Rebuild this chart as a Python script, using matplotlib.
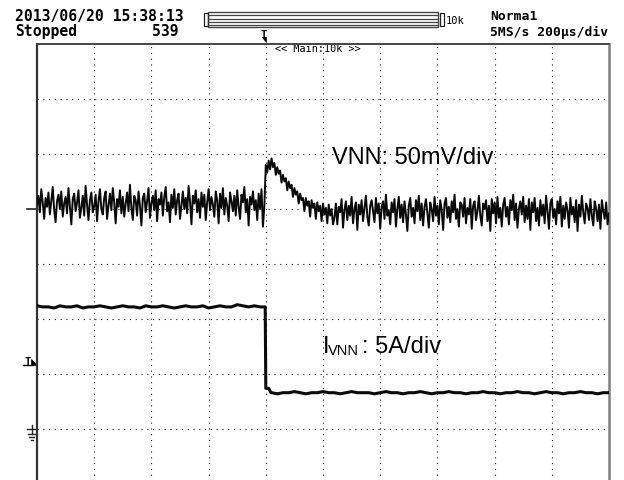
import numpy as np
import matplotlib
matplotlib.use('Agg')
import matplotlib.pyplot as plt
from matplotlib.patches import Rectangle, Polygon

# Scope settings: 200 us/div, 10 div across, 8 div high
n_xdiv, n_ydiv = 10, 8
vnn_scale_mv = 50.0      # mV/div
ivnn_scale_a = 5.0       # A/div
vnn_pos_div = 1.0        # CH1 offset marker
ivnn_pos_div = -3.0      # CH2 ground marker
trig_div = 4.0
vnn_step_div = 0.025     # sample spacing of the VNN readout

# VNN samples (mV)
vnn_pre_mv = [
    4, 12, -3, 18, 6, -9, 10, 2, 15, -5, 8, 20, -1, -12, 7, 13, 0, 16, -7, 5,
    11, -4, 19, 3, -14, 9, 14, -2, 6, 17, -8, 1, 12, -6, 21, 4, -10, 8, 15, -3,
    2, 13, -11, 7, 18, 0, -5, 10, 16, -9, 3, 14, -1, 19, 6, -13, 9, 2, 17, -4,
    11, -7, 5, 15, -2, 22, 1, -10, 12, 8, -6, 16, 3, -15, 10, 14, -3, 7, 19, -8,
    5, 12, -1, 17, -11, 9, 4, 15, -6, 11, 20, -2, 6, -12, 13, 1, 18, -5, 8, 14,
    -9, 3, 16, 0, 10, -4, 21, 7, -14, 12, 5, 17, -3, 9, -8, 15, 2, 13, -10, 6,
    18, -1, 11, 4, -7, 16, 8, -13, 14, 1, 19, -5, 10, 3, -11, 15, 7, -2, 12, -6,
    17, 2, -9, 13, 6, 20, -3, 9, -15, 11, 4, 16, -1, 8, -10, 14, 0, 18, -16, 3,
]
vnn_spike_mv = [
    40, 33, 44, 36, 46, 38, 42, 31, 38, 32, 35, 24, 31, 25, 28, 17, 25, 19, 22, 11,
    19, 13, 16, 5, 14, 8, 10, -2, 10, 3, 7, -7, 8, 1, 5, -9, 6, -2, 3, -11,
    5, -5, 1, -13, 4, -6, 0, -14,
]
vnn_post_mv = [
    -8, 5, -14, 2, -3, 9, -17, -1, 7, -10, 3, -6, 11, -13, 0, 6, -19, 4, -5, 8,
    -11, 1, 12, -7, -15, 3, 8, -2, -12, 10, -4, 5, -18, 2, 7, -9, 13, -6, -1, -14,
    6, -3, 9, -16, 0, 11, -8, 4, -12, 7, -5, -20, 3, 10, -7, 1, -13, 8, -2, 12,
    -10, 5, -15, 2, 9, -4, -17, 6, 0, -11, 11, -6, 3, -14, 8, -1, -19, 5, 10, -8,
    2, -12, 7, -3, 13, -9, 0, -16, 6, 4, -7, 10, -13, 1, -5, 9, -18, 3, 7, -10,
    -2, 12, -6, -15, 5, 0, 8, -11, 3, -20, 9, -4, 6, -13, 11, -8, 1, -16, 4, 10,
    -7, 2, -14, 8, -1, 13, -10, 5, -17, 0, 7, -5, 11, -12, 3, -9, 9, -19, 6, -3,
    10, -11, 1, -15, 8, -6, 4, -13, 12, -2, -18, 5, 9, -8, 0, -14, 7, -4, 11, -16,
    3, -9, 6, -1, -17, 10, -5, 2, -12, 8, -20, 4, -7, 12, -3, -13, 5, 1, -10, 9,
    -6, -15, 7, 0, -11, 4, -18, 8, -2, -9, 6, -14, -4,
]

# I_VNN samples (A) every 0.1 div, plus the falling edge
ivnn_high_a = [
    11.2, 11.1, 11.1, 11.0, 11.2, 11.1, 11.1, 11.2, 11.0, 11.1,
    11.1, 11.2, 11.1, 11.0, 11.1, 11.2, 11.1, 11.1, 11.0, 11.2,
    11.1, 11.1, 11.2, 11.1, 11.0, 11.1, 11.2, 11.1, 11.1, 11.2,
    11.0, 11.1, 11.2, 11.1, 11.1, 11.3, 11.2, 11.1, 11.2, 11.1,
]
ivnn_edge_t = [3.99, 4.0, 4.05, 4.09]
ivnn_edge_a = [11.1, 3.7, 3.7, 3.3]
ivnn_low_a = [
    3.3, 3.2, 3.3, 3.3, 3.4, 3.3, 3.2, 3.3, 3.3, 3.4,
    3.3, 3.3, 3.2, 3.3, 3.4, 3.3, 3.3, 3.3, 3.2, 3.3,
    3.4, 3.3, 3.3, 3.2, 3.3, 3.3, 3.4, 3.3, 3.2, 3.3,
    3.3, 3.4, 3.3, 3.3, 3.2, 3.3, 3.3, 3.4, 3.3, 3.3,
    3.2, 3.3, 3.3, 3.4, 3.3, 3.3, 3.2, 3.3, 3.4, 3.3,
    3.3, 3.2, 3.3, 3.3, 3.4, 3.3, 3.3, 3.2, 3.3, 3.3,
]

W, H = 624, 481
fig = plt.figure(figsize=(W / 100, H / 100), dpi=100)
fig.patch.set_facecolor('white')

# overlay in screen pixels for the scope UI (header, markers)
ov = fig.add_axes([0, 0, 1, 1])
ov.set_xlim(0, W)
ov.set_ylim(H, 0)
ov.axis('off')

# graticule / waveform area (bottom edge falls just outside the picture)
left, right, top, bottom = 37, 609, 45, 485
ax = fig.add_axes([left / W, (H - bottom) / H, (right - left) / W, (bottom - top) / H])
ax.set_facecolor('none')
ax.set_xlim(0, n_xdiv)
ax.set_ylim(-n_ydiv / 2, n_ydiv / 2)
ax.set_xticks([])
ax.set_yticks([])
ax.spines['left'].set_linewidth(1.6)
ax.spines['left'].set_color('#333333')
ax.spines['top'].set_linewidth(1.4)
ax.spines['top'].set_color('#444444')
ax.spines['right'].set_linewidth(1.8)
ax.spines['right'].set_color('#808080')
ax.spines['bottom'].set_visible(False)

dot = dict(color='#1a1a1a', lw=0.8, linestyle=(0, (1, 4.2)), zorder=1)
for gx in range(1, n_xdiv):
    ax.axvline(gx, **dot)
for gy in range(-n_ydiv // 2 + 1, n_ydiv // 2):
    ax.axhline(gy, **dot)

# VNN trace
vnn = np.array(vnn_pre_mv + vnn_spike_mv + vnn_post_mv, dtype=float)
t_v = np.arange(len(vnn)) * vnn_step_div
ax.plot(t_v, vnn / vnn_scale_mv + vnn_pos_div, color='#0a0a0a', lw=1.4, zorder=3)

# I_VNN trace
t_i = np.concatenate([np.arange(len(ivnn_high_a)) * 0.1, ivnn_edge_t,
                      4.1 + np.arange(len(ivnn_low_a)) * 0.1])
ivnn = np.array(ivnn_high_a + ivnn_edge_a + ivnn_low_a)
ax.plot(t_i, ivnn / ivnn_scale_a + ivnn_pos_div, color='#0a0a0a', lw=2.2, zorder=3)

# labels on the screen
sans = 'Liberation Sans'
ov.text(332, 164, 'VNN: 50mV/div', fontsize=17, family=sans, va='baseline')
ov.text(323, 353, 'I', fontsize=17, family=sans, va='baseline')
ov.text(328, 355, 'VNN', fontsize=10.5, family=sans, va='baseline')
ov.text(362, 353, ': 5A/div', fontsize=17, family=sans, va='baseline')

# header
mono = 'DejaVu Sans Mono'
ov.text(15, 21, '2013/06/20 15:38:13', fontsize=10.6, family=mono, weight='bold', va='baseline')
ov.text(15, 36, 'Stopped', fontsize=10.6, family=mono, weight='bold', va='baseline')
ov.text(152, 36, '539', fontsize=10.6, family=mono, weight='bold', va='baseline')
ov.text(490, 20, 'Norma1', fontsize=9.4, family=mono, weight='bold', va='baseline')
ov.text(490, 36, '5MS/s 200µs/div', fontsize=9.4, family=mono, weight='bold', va='baseline')
ov.text(446, 24, '10k', fontsize=7.5, family=mono, va='baseline')
ov.text(275, 52, '<< Main:10k >>', fontsize=7.3, family=mono, va='baseline')

# record-length bar
ov.add_patch(Rectangle((208, 13), 230, 15, fill=False, ec='#444444', lw=1.0))
for yy in (16, 19.5, 22.5, 25.5):
    ov.plot([208, 438], [yy, yy], color='#444444', lw=0.9)
ov.add_patch(Rectangle((203.5, 14), 4, 13, fill=False, ec='#222222', lw=0.9))
ov.add_patch(Rectangle((439.5, 14), 4, 13, fill=False, ec='#222222', lw=0.9))

# trigger position marker on top
trig_px = left + trig_div / n_xdiv * (right - left)
ov.text(trig_px - 2.5, 38, 'T', fontsize=7.5, family=mono, weight='bold',
        ha='center', va='baseline')
ov.add_patch(Polygon([(trig_px - 4, 38), (trig_px, 38), (trig_px, 43)],
                     closed=True, fc='black', ec='black', lw=0.5))

# left-hand markers
def ypix(div):
    return top + (n_ydiv / 2 - div) / n_ydiv * (bottom - top)

y1 = ypix(vnn_pos_div)
ov.plot([27, left], [y1, y1], color='#222222', lw=1.2)

yt = ypix(5.9 / ivnn_scale_a + ivnn_pos_div)
ov.text(28, yt, 'T', fontsize=7.5, family=mono, weight='bold', ha='center', va='baseline')
ov.plot([23, 33], [yt + 1, yt + 1], color='black', lw=1.0)
ov.add_patch(Polygon([(31, yt - 5), (31, yt + 1), (37, yt + 1)], closed=True,
                     fc='black', ec='black', lw=0.5))

yg = ypix(ivnn_pos_div)
ov.plot([27, left], [yg, yg], color='#222222', lw=1.0)
ov.plot([31.5, 31.5], [yg - 4, yg + 5], color='#222222', lw=1.0)
ov.plot([27.5, 35.5], [yg + 5, yg + 5], color='#222222', lw=1.0)
ov.plot([29, 34], [yg + 8, yg + 8], color='#222222', lw=1.0)
ov.plot([30.5, 32.5], [yg + 11, yg + 11], color='#222222', lw=1.0)

fig.savefig('out.png', dpi=100)
